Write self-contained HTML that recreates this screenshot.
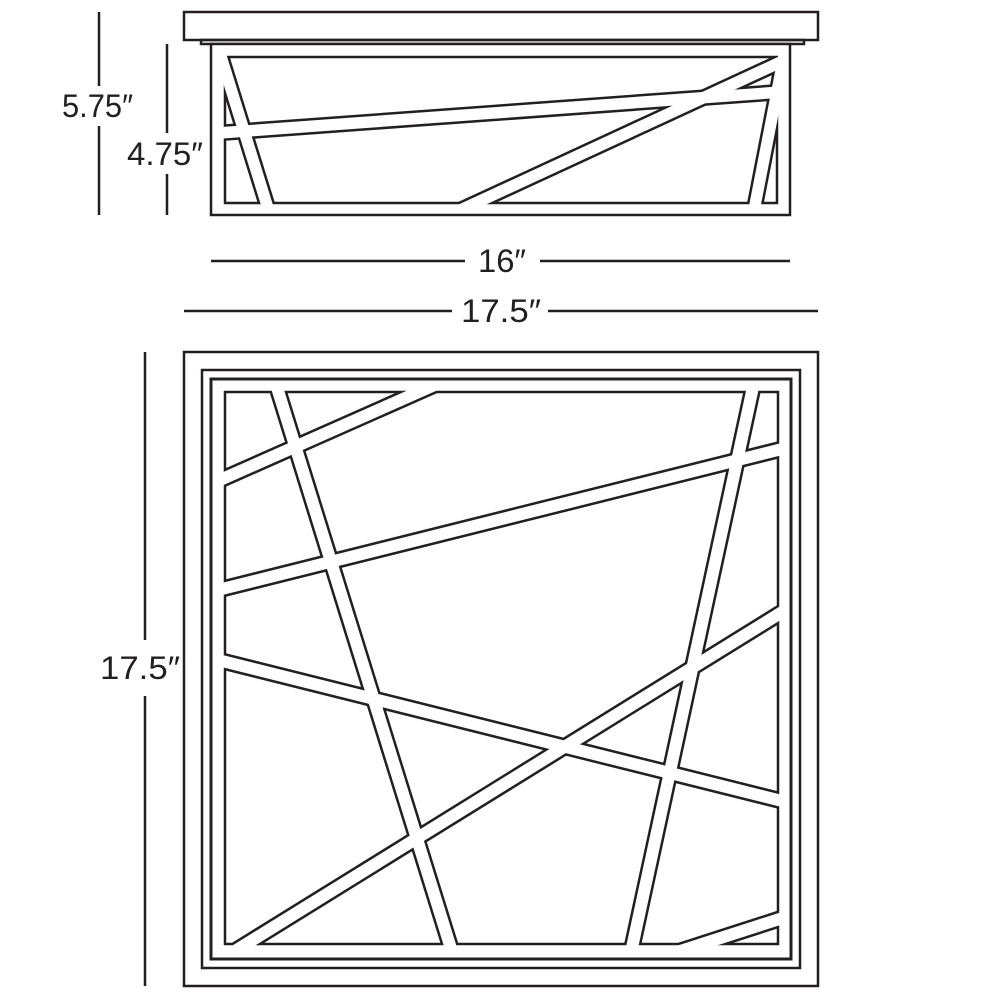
<!DOCTYPE html>
<html><head><style>
html,body{margin:0;padding:0;background:#fff;}
svg{display:block;}
text{font-family:"Liberation Sans",sans-serif;font-size:32px;fill:#231f20;}
</style></head><body>
<svg width="1000" height="1000" viewBox="0 0 1000 1000" xmlns="http://www.w3.org/2000/svg">
<defs>
<clipPath id="topIn"><rect x="225" y="57" width="552" height="146"/></clipPath>
<clipPath id="topInW"><rect x="223" y="55" width="556" height="150"/></clipPath>
<clipPath id="botIn"><rect x="225" y="392" width="553" height="552"/></clipPath>
<clipPath id="botInW"><rect x="223" y="390" width="557" height="556"/></clipPath>
</defs>
<g fill="none" stroke="#231f20" stroke-width="2.5">
<!-- dimension lines -->
<line x1="99" y1="12" x2="99" y2="86"/>
<line x1="99" y1="126" x2="99" y2="215"/>
<line x1="167" y1="44" x2="167" y2="133"/>
<line x1="167" y1="174" x2="167" y2="215"/>
<line x1="211" y1="261" x2="465" y2="261"/>
<line x1="540" y1="261" x2="790" y2="261"/>
<line x1="184" y1="311" x2="452" y2="311"/>
<line x1="548" y1="311" x2="818" y2="311"/>
<line x1="145" y1="352" x2="145" y2="640"/>
<line x1="145" y1="696" x2="145" y2="986"/>
<!-- side view -->
<rect x="184" y="12" width="634" height="28" fill="#fff"/>
<rect x="201" y="40" width="603" height="4"/>
<rect x="211" y="44" width="579" height="171" fill="#fff"/>
<rect x="225" y="57" width="552" height="146"/>
<!-- top view frame -->
<rect x="184" y="352" width="634" height="634"/>
<rect x="202" y="370" width="598" height="598"/>
<rect x="211" y="379" width="580" height="580" stroke-width="3"/>
<rect x="225" y="392" width="553" height="552"/>
</g>
<!-- side bars -->
<g clip-path="url(#topIn)" stroke="#231f20" stroke-width="16.5" fill="none">
<line x1="210" y1="21" x2="275" y2="231"/>
<line x1="150" y1="138" x2="850" y2="87"/>
<line x1="415" y1="231" x2="850" y2="30"/>
<line x1="789" y1="30" x2="750" y2="231"/>
</g>
<g clip-path="url(#topInW)" stroke="#fff" stroke-width="11.5" fill="none">
<line x1="210" y1="21" x2="275" y2="231"/>
<line x1="150" y1="138" x2="850" y2="87"/>
<line x1="415" y1="231" x2="850" y2="30"/>
<line x1="789" y1="30" x2="750" y2="231"/>
</g>
<!-- top view bars -->
<g clip-path="url(#botIn)" stroke="#231f20" stroke-width="17" fill="none">
<line x1="266" y1="352" x2="462" y2="984"/>
<line x1="500" y1="356" x2="150" y2="511"/>
<line x1="150" y1="607" x2="850" y2="432"/>
<line x1="761" y1="350" x2="622" y2="994"/>
<line x1="150" y1="643" x2="850" y2="818"/>
<line x1="850" y1="570" x2="180" y2="985"/>
<line x1="860" y1="893" x2="640" y2="964"/>
</g>
<g clip-path="url(#botInW)" stroke="#fff" stroke-width="12" fill="none">
<line x1="266" y1="352" x2="462" y2="984"/>
<line x1="500" y1="356" x2="150" y2="511"/>
<line x1="150" y1="607" x2="850" y2="432"/>
<line x1="761" y1="350" x2="622" y2="994"/>
<line x1="150" y1="643" x2="850" y2="818"/>
<line x1="850" y1="570" x2="180" y2="985"/>
<line x1="860" y1="893" x2="640" y2="964"/>
</g>
<text x="62" y="117" textLength="71" lengthAdjust="spacingAndGlyphs">5.75″</text>
<text x="127" y="165" textLength="76" lengthAdjust="spacingAndGlyphs">4.75″</text>
<text x="478" y="272" textLength="48" lengthAdjust="spacingAndGlyphs">16″</text>
<text x="461" y="322" textLength="80" lengthAdjust="spacingAndGlyphs">17.5″</text>
<text x="100" y="679" textLength="80" lengthAdjust="spacingAndGlyphs">17.5″</text>
</svg>
</body></html>
